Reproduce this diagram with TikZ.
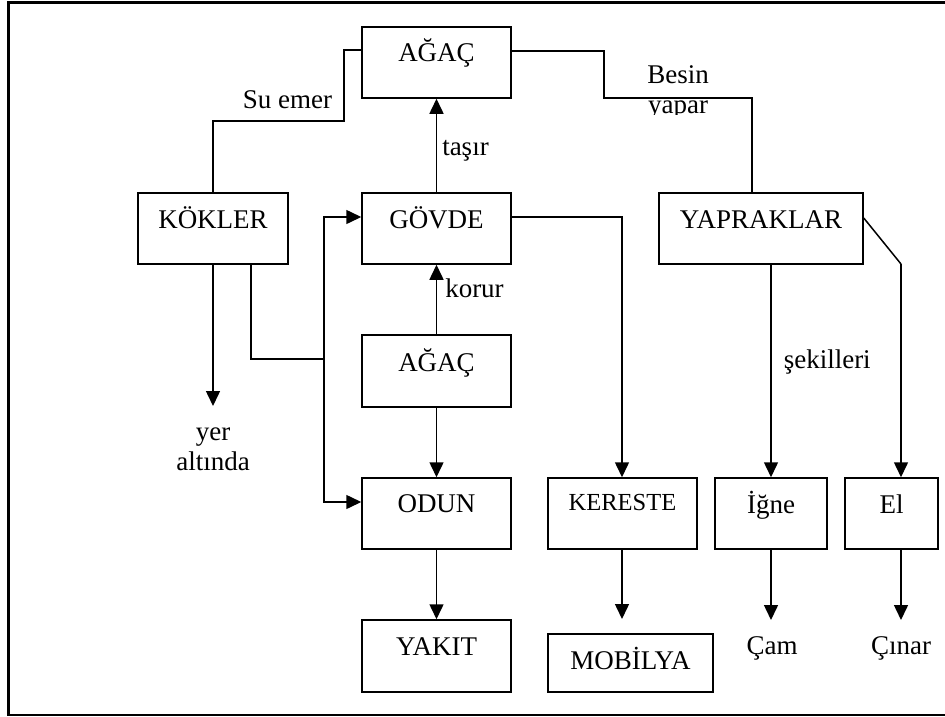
\documentclass[tikz,border=0pt]{standalone}
\usepackage{fontspec}
\setmainfont{Liberation Serif}
\usetikzlibrary{arrows.meta}
\begin{document}
\begin{tikzpicture}[x=1pt,y=-1pt,
  every node/.style={font=\fontsize{27}{30}\selectfont, inner sep=0pt},
  box/.style={draw, line width=1.5pt, minimum width=149pt},
  tb/.style 2 args={text height=#1pt, text depth=#2pt},
  ln/.style={line width=1.5pt},
  arr/.style={line width=1.5pt, -{Triangle[length=15pt,width=14pt]}},
  lbl/.style={inner sep=0pt}]

\useasboundingbox (0,0) rectangle (945,717);
\draw[line width=2.3pt] (960,2.5) -- (8.5,2.5) -- (8.5,715) -- (960,715);

% boxes
\node[box, tb={35}{36}] (topA) at (436.5,62.5) {AĞAÇ};
\node[box, tb={35}{36}, minimum width=150pt] (kok) at (213,228.5) {KÖKLER};
\node[box, tb={35}{36}] (govde) at (436.5,228.5) {GÖVDE};
\node[box, tb={35}{36}, minimum width=204pt] (yap) at (761,228.5) {YAPRAKLAR};
\node[box, tb={36}{36}] (midA) at (436.5,371) {AĞAÇ};
\node[box, tb={34.5}{36.5}] (odun) at (436.5,513.5) {ODUN};
\node[box, tb={32}{39}, font=\fontsize{24.5}{28}\selectfont] (ker) at (622.5,513.5) {KERESTE};
\node[box, tb={35}{36}, minimum width=112pt] (igne) at (771,513.5) {İğne};
\node[box, tb={35}{36}, minimum width=93pt] (el) at (891.5,513.5) {El};
\node[box, tb={35}{37}] (yakit) at (436.5,656) {YAKIT};
\node[box, tb={35}{23}, minimum width=165pt] (mob) at (630.5,663) {MOBİLYA};

% free texts (base anchor of a two-line node is its last line)
\node[lbl, anchor=base] (su) at (287.5,108) {Su emer};
\begin{scope}
  \clip (560,55) rectangle (800,114);
  \node[lbl, anchor=base, align=center] (besin) at (678,113) {Besin\\yapar};
\end{scope}
\node[lbl, anchor=base, align=center] (yer) at (213,470) {yer\\altında};
\node[lbl, anchor=base] (cam) at (772,654) {Çam};
\node[lbl, anchor=base] (cinar) at (901,654) {Çınar};

% bend points and free arrow ends
\coordinate (suA) at (344,50);
\coordinate (suB) at (344,121);
\coordinate (suC) at (213,121);
\coordinate (bA) at (604,51);
\coordinate (bB) at (604,98);
\coordinate (bC) at (752,98);
\coordinate (kA) at (251,359);
\coordinate (kB) at (324,359);
\coordinate (jT) at (324,217);
\coordinate (jB) at (324,502);
\coordinate (gk) at (622,217);
\coordinate (yE) at (863,218);
\coordinate (yD) at (901,264);
\coordinate (kokTip) at (213,406);
\coordinate (mobTip) at (622,619);
\coordinate (leafTip) at (771,620);

% connectors
\draw[ln] (topA.west |- suA) -- (suA) -- (suB) -- (suC) -- (kok.north);
\draw[ln] (topA.east |- bA) -- (bA) -- (bB) -- (bC) -- (bC |- yap.north);
\draw[arr] (govde.north) -- node[pos=0.39, anchor=base west, xshift=5pt]{taşır} (topA.south);
\draw[arr] (midA.north) -- node[pos=0.535, anchor=base west, xshift=8pt]{korur} (govde.south);
\draw[arr] (kok.south) -- (kokTip);
\draw[ln] (kok.south -| kA) -- (kA) -- (kB);
\draw[arr] (kB) |- (jT -| govde.west);
\draw[arr] (kB) |- (jB -| odun.west);
\draw[arr] (govde.east |- gk) -- (gk) -- (gk |- ker.north);
\draw[arr] (midA.south) -- (odun.north);
\draw[arr] (odun.south) -- (yakit.north);
\draw[arr] (ker.south -| mobTip) -- (mobTip);
\draw[arr] (igne.north |- yap.south) -- node[pos=0.486, anchor=base west, xshift=12pt]{şekilleri} (igne.north);
\draw[ln] (yap.east |- yE) -- (yD);
\draw[arr] (yD) -- (yD |- el.north);
\draw[arr] (igne.south) -- (leafTip);
\draw[arr] (yD |- el.south) -- (yD |- leafTip);
\end{tikzpicture}
\end{document}
